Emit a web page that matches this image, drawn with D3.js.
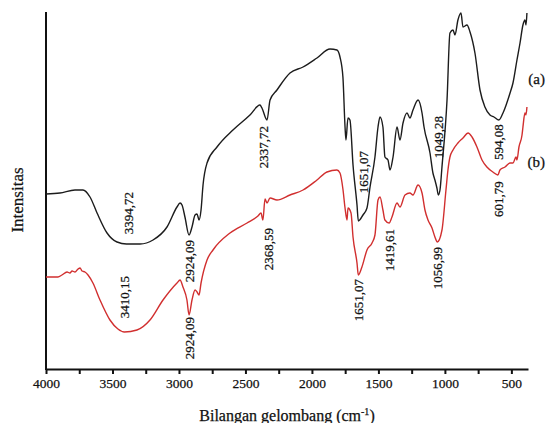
<!DOCTYPE html>
<html>
<head>
<meta charset="utf-8">
<script src="https://cdn.jsdelivr.net/npm/d3@7/dist/d3.min.js"></script>
<style>
  html, body { margin: 0; padding: 0; background: #fff; }
  svg { display: block; }
  svg text { font-family: "Liberation Serif", "Times New Roman", serif; fill: #111; stroke: #111; stroke-width: 0.25px; }
</style>
</head>
<body>
<div id="chart"></div>
<script>
// FTIR spectra: wavenumber (cm-1) and relative intensity (arbitrary units)
const wavenumberA = [4000,3895,3782,3722,3669,3616,3541,3466,3394.72,3293,3195,3090,3015,2992,2977,2955,2924.09,2902,2879,2864,2849,2834,2819,2789,2714,2594,2466,2391,2376,2337.72,2315,2263,2165,2067,1962,1864,1812,1789,1767,1751,1744,1729,1714,1691,1661,1651.07,1616,1586,1563,1526,1503,1488,1466,1451,1428,1413,1390,1360,1338,1315,1285,1263,1240,1202,1172,1157,1112,1090,1075,1060,1049.28,1037,1022,984,962,939,924,902,879,864,834,811,774,736,699,661,631,594.08,563,510,488,458,435,413,398,390,383];
const intensityA  = [175,176,179,179,172,156,136,127,125,125,129,142,162,166,164,152,134,142,154,155,149,159,184,206,222,239,254,264,261,249,269,279,296,302,311,320,319,312,292,242,229,251,249,204,164,148,154,161,182,212,242,252,242,212,209,199,212,242,229,246,256,251,259,269,256,242,216,196,189,181,174,179,202,269,336,339,334,349,356,342,344,337,316,279,262,254,252,249,256,276,286,309,326,344,349,344,356];

const wavenumberB = [4000,3910,3880,3842,3820,3804,3782,3759,3744,3729,3707,3684,3647,3594,3519,3459,3410.15,3316,3218,3120,3015,2992,2970,2940,2924.09,2902,2879,2864,2849,2834,2789,2744,2616,2488,2406,2383,2368.59,2353,2338,2315,2263,2165,2067,1962,1887,1812,1789,1767,1751,1736,1729,1706,1691,1661,1651.07,1624,1586,1548,1526,1503,1488,1466,1451,1419.61,1398,1360,1338,1300,1263,1240,1202,1172,1150,1127,1097,1075,1056.99,1022,992,977,962,939,902,864,826,796,759,721,684,639,601.79,586,548,510,488,465,458,443,420,413,398,390,383];
const intensityB  = [92,92,94,97,96,98,97,100,101,98,97,94,86,69,49,40,37,39,49,69,86,89,82,69,54,69,79,77,74,86,109,119,136,146,153,156,149,170,166,171,169,174,179,189,197,199,196,180,161,149,161,156,132,106,94,102,119,126,134,169,172,159,149,146,152,166,162,174,176,174,184,176,159,149,141,132,127,139,179,199,212,219,226,231,236,232,222,209,202,197,194,199,202,206,206,212,209,222,234,242,256,254,262];

// Axis ticks
const xTickValues = [4000,3750,3500,3250,3000,2750,2500,2250,2000,1750,1500,1250,1000,750,500];
const xTickLabels = ["4000","","3500","","3000","","2500","","2000","","1500","","1000","","500"];

// Band annotations: band position, printed label, intensity level of the label centre
const peaksA = [
  { wn: 3394.72, text: "3394,72", at: 156 },
  { wn: 2924.09, text: "2924,09", at: 108 },
  { wn: 2337.72, text: "2337,72", at: 222 },
  { wn: 1651.07, text: "1651,07", at: 197 },
  { wn: 1049.28, text: "1049,28", at: 232 },
  { wn: 594.08,  text: "594,08",  at: 227 }
];
const peaksB = [
  { wn: 3410.15, text: "3410,15", at: 72 },
  { wn: 2924.09, text: "2924,09", at: 31 },
  { wn: 2368.59, text: "2368,59", at: 120 },
  { wn: 1651.07, text: "1651,07", at: 69 },
  { wn: 1419.61, text: "1419,61", at: 119 },
  { wn: 1056.99, text: "1056,99", at: 101 },
  { wn: 601.79,  text: "601,79",  at: 170 }
];

const seriesNames = ["(a)", "(b)"];
const seriesEndLevel = [290, 207];   // intensity level for the series tags
const seriesColors = ["#1c1c1c", "#d12f2f"];

const W = 555, H = 423;
const margin = { left: 46, right: 27, top: 12, bottom: 54 };
const FONT = "'Liberation Serif', 'Times New Roman', serif";

const svg = d3.select("#chart").append("svg")
  .attr("width", W).attr("height", H);

const x = d3.scaleLinear()
  .domain([4000, 375])
  .range([margin.left, W - margin.right]);
const y = d3.scaleLinear()
  .domain([0, 357])
  .range([H - margin.bottom, margin.top]);

// x axis
const xAxis = d3.axisBottom(x)
  .tickValues(xTickValues)
  .tickFormat((d, i) => xTickLabels[i])
  .tickSizeInner(5)
  .tickSizeOuter(0)
  .tickPadding(4);

const gx = svg.append("g")
  .attr("transform", `translate(0,${H - margin.bottom})`)
  .call(xAxis)
  .attr("font-family", FONT);
gx.select(".domain").attr("stroke", "#111").attr("stroke-width", 2);
gx.selectAll(".tick line").attr("stroke", "#111").attr("stroke-width", 2);
gx.selectAll(".tick text").style("font-size", "13.5px");

// y axis (bare line)
svg.append("line")
  .attr("x1", margin.left).attr("x2", margin.left)
  .attr("y1", margin.top).attr("y2", H - margin.bottom + 1)
  .attr("stroke", "#111").attr("stroke-width", 2);

// spectra
const line = d3.line()
  .x(d => x(d[0]))
  .y(d => y(d[1]))
  .curve(d3.curveMonotoneX);

const dataA = wavenumberA.map((w, i) => [w, intensityA[i]]);
const dataB = wavenumberB.map((w, i) => [w, intensityB[i]]);

[dataA, dataB].forEach((data, i) => {
  svg.append("path")
    .datum(data)
    .attr("fill", "none")
    .attr("stroke", seriesColors[i])
    .attr("stroke-width", 1.4)
    .attr("stroke-linejoin", "round")
    .attr("d", line);
});

// band labels, written vertically (small horizontal nudges keep them off the curve)
const nudgeA = { "2337,72": -4, "1651,07": 5, "3394,72": 2 };
const nudgeB = { "2368,59": 6, "601,79": 1 };
function drawPeaks(list, nudge) {
  list.forEach(p => {
    const cx = x(p.wn) + (nudge[p.text] || 0), cy = y(p.at);
    svg.append("text")
      .attr("transform", `translate(${cx},${cy}) rotate(-90)`)
      .attr("text-anchor", "middle")
      .attr("dominant-baseline", "central")
      .style("font-size", "13px")
      .text(p.text);
  });
}
drawPeaks(peaksA, nudgeA);
drawPeaks(peaksB, nudgeB);

// series tags
seriesNames.forEach((n, i) => {
  svg.append("text")
    .attr("x", W - 10)
    .attr("y", y(seriesEndLevel[i]))
    .attr("text-anchor", "end")
    .attr("dominant-baseline", "central")
    .style("font-size", "15px")
    .text(n);
});

// axis titles
const xt = svg.append("text")
  .attr("x", (margin.left + W - margin.right) / 2)
  .attr("y", 421)
  .attr("text-anchor", "middle")
  .style("font-size", "16px");
xt.append("tspan").text("Bilangan gelombang (cm");
xt.append("tspan").attr("dy", -6).style("font-size", "10px").text("-1");
xt.append("tspan").attr("dy", 6).text(")");

svg.append("text")
  .attr("transform", "translate(17,200) rotate(-90)")
  .attr("text-anchor", "middle")
  .attr("dominant-baseline", "central")
  .style("font-size", "17px")
  .text("Intensitas");
</script>
</body>
</html>
